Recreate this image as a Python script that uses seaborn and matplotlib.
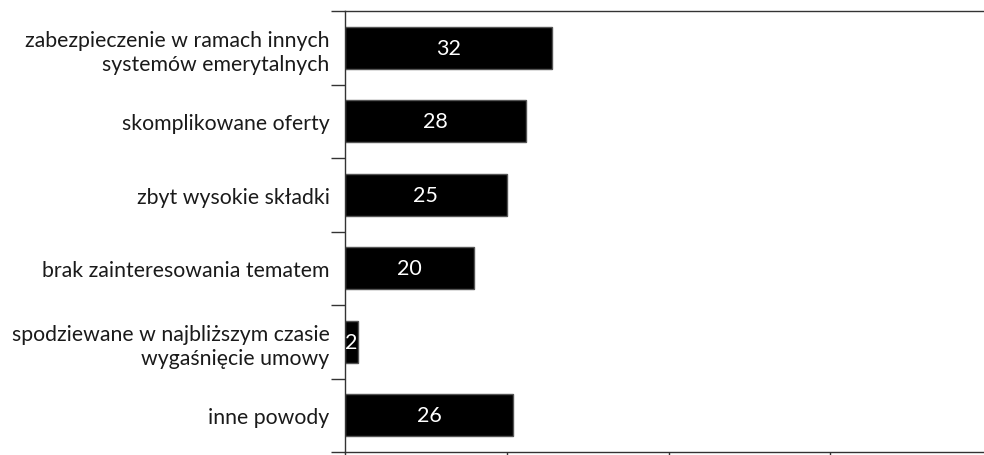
import matplotlib
matplotlib.use("Agg")
import matplotlib.pyplot as plt
import seaborn as sns
import pandas as pd
import numpy as np

categories = [
    "zabezpieczenie w ramach innych\nsystemów emerytalnych",
    "skomplikowane oferty",
    "zbyt wysokie składki",
    "brak zainteresowania tematem",
    "spodziewane w najbliższym czasie\nwygaśnięcie umowy",
    "inne powody",
]
values = [32, 28, 25, 20, 2, 26]
x_ticks = [0, 25, 50, 75, 100]

sns.set_theme(style="white")
plt.rcParams["font.family"] = ["Lato", "DejaVu Sans"]

df = pd.DataFrame({"powod": categories, "wartosc": values})

fig = plt.figure(figsize=(9.84, 4.56), dpi=100)
ax = fig.add_axes([345 / 984, 3 / 456, 647 / 984, 441 / 456])

sns.barplot(data=df, y="powod", x="wartosc", orient="h", color="black",
            width=0.57, edgecolor="#555555", linewidth=1.0, ax=ax,
            saturation=1)

for i, v in enumerate(values):
    ax.text(v / 2, i, str(v), color="white", ha="center", va="center",
            fontsize=15.5)

ax.set_xlim(0, 100)
ax.set_ylim(len(categories) - 0.5, -0.5)
ax.set_xlabel("")
ax.set_ylabel("")

ax.set_xticks(x_ticks)
ax.tick_params(axis="x", which="major", direction="out", length=10,
               width=1, color="#333333", bottom=True, labelbottom=False)

ax.set_yticks(np.arange(len(categories)))
ax.set_yticklabels(categories, fontsize=15.3, color="#1a1a1a",
                   linespacing=1.25)
ax.set_yticks(np.arange(len(categories) + 1) - 0.5, minor=True)
ax.tick_params(axis="y", which="major", length=0, pad=11)
ax.tick_params(axis="y", which="minor", direction="out", length=10,
               width=1, color="#333333", left=True)

for side in ["left", "bottom", "top", "right"]:
    ax.spines[side].set_visible(True)
    ax.spines[side].set_color("#333333")
    ax.spines[side].set_linewidth(1.0)

fig.savefig("out.png", dpi=100)
